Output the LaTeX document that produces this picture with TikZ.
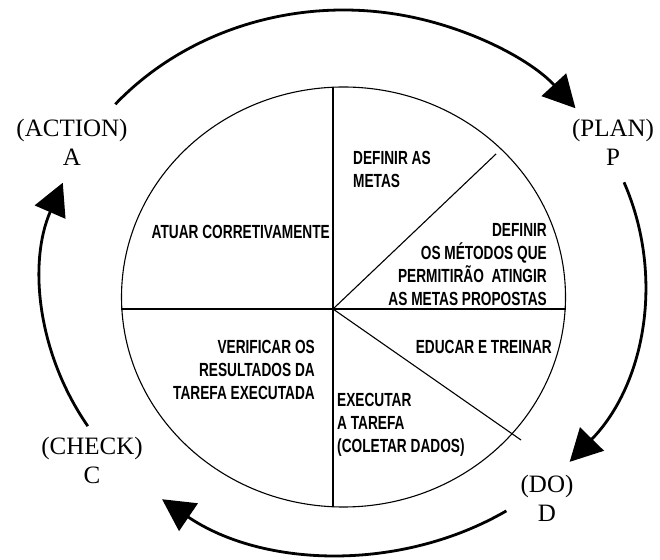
\documentclass[tikz,border=0pt]{standalone}
\usepackage{fontspec}
\setmainfont{Liberation Serif}
\newfontfamily\condsans[FakeStretch=0.72]{Liberation Sans Bold}
\usetikzlibrary{arrows.meta,calc}
\begin{document}
\begin{tikzpicture}[x=1pt,y=1pt,
  cyc/.style={line width=2.8pt,-{Triangle[length=32pt,width=33pt]}},
  divider/.style={line width=1.1pt},
  phase/.style={font=\fontsize{25}{29}\selectfont, align=center, inner sep=0pt},
  task/.style={font=\condsans\fontsize{19}{23}\selectfont, inner sep=0pt}]
\useasboundingbox (0,0) rectangle (660,559);
\fill[white] (0,0) rectangle (660,559);
% inner circle and its dividers
\coordinate (IC) at (343.5,262);
\draw[divider] (IC) ellipse [x radius=222pt, y radius=210pt];
\coordinate (O) at (333,250);
\coordinate (Vt) at (333,472);
\coordinate (Vb) at (333,53);
\coordinate (Hl) at (121,250);
\coordinate (Hr) at (566,250);
\coordinate (Du) at (496,405);
\coordinate (Dl) at (521,119);
\draw[divider] (Vt) -- (Vb);
\draw[divider] (Hl) -- (Hr);
\draw[divider] (O) -- (Du);
\draw[divider] (O) -- (Dl);
% texts in the sectors
\node[task, anchor=west, align=left] (metas) at (353,390) {DEFINIR AS\\METAS};
\node[task, anchor=east] (atuar) at (330,327) {ATUAR CORRETIVAMENTE};
\node[task, anchor=east, align=right] (metodos) at (547,294) {DEFINIR\\OS MÉTODOS QUE\\PERMITIRÃO\ \ ATINGIR\\AS METAS PROPOSTAS};
\node[task, anchor=east] (educar) at (552,212) {EDUCAR E TREINAR};
\node[task, anchor=east, align=right] (verificar) at (315,189) {VERIFICAR OS\\RESULTADOS DA\\TAREFA EXECUTADA};
\node[task, anchor=west, align=left] (executar) at (337,134) {EXECUTAR\\A TAREFA\\(COLETAR DADOS)};
% phase labels
\node[phase] (A) at (72,417) {(ACTION)\\A};
\node[phase] (P) at (613,417) {(PLAN)\\P};
\node[phase] (D) at (547,61) {(DO)\\D};
\node[phase] (C) at (92,99) {(CHECK)\\C};
% outer cycle arrows
\coordinate (OC) at (343.5,277);
\coordinate (sAP) at ($(OC)+(139.2:301.5 and 272)$);
\coordinate (sPD) at ($(OC)+(21.5:301.5 and 272)$);
\coordinate (sDC) at ($(OC)+(-57.3:301.5 and 272)$);
\coordinate (sCA) at ($(OC)+(212:301.5 and 272)$);
\draw[cyc] (sAP) arc[start angle=139.2, end angle=39.7, x radius=301.5pt, y radius=272pt];
\draw[cyc] (sPD) arc[start angle=21.5, end angle=-41.4, x radius=301.5pt, y radius=272pt];
\draw[cyc] (sDC) arc[start angle=-57.3, end angle=-127, x radius=301.5pt, y radius=272pt];
\draw[cyc] (sCA) arc[start angle=212, end angle=158.6, x radius=301.5pt, y radius=272pt];
\end{tikzpicture}
\end{document}
